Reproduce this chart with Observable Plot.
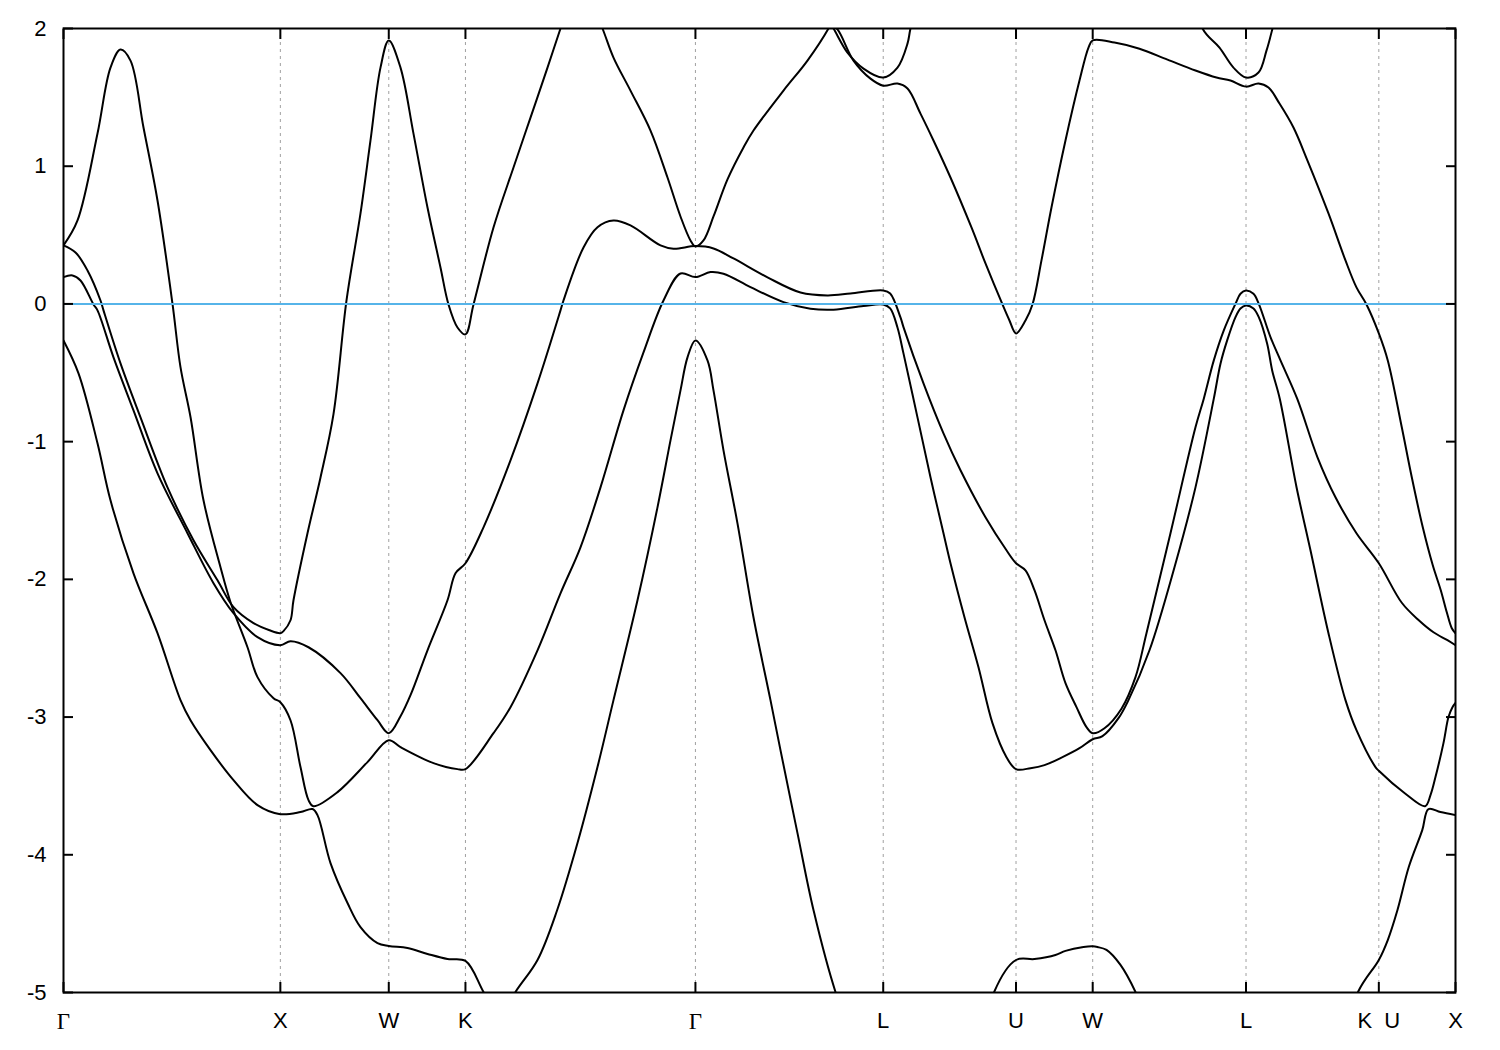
<!DOCTYPE html>
<html>
<head>
<meta charset="utf-8">
<script src="https://cdn.jsdelivr.net/npm/d3@7"></script>
<script src="https://cdn.jsdelivr.net/npm/@observablehq/plot@0.6"></script>
<style>
  html, body { margin: 0; padding: 0; background: #fff; }
</style>
</head>
<body>
<div id="chart"></div>
<script>
// High-symmetry points along the path (cumulative k distance) and their labels
const nodeK = [0, 1, 1.5, 1.8536, 2.9142, 3.7802, 4.3926, 4.7462, 5.4533, 6.0657, 6.4193];
const nodeLabels = ["Γ", "X", "W", "K", "Γ", "L", "U", "W", "L", "K\u00a0\u00a0U", "X"];
const yTicks = [2, 1, 0, -1, -2, -3, -4, -5];
const fermiLevel = [0];

// Bands: [k, E] pairs
const band1 = [
  [0, 0.425], [0.0646, 0.606], [0.1568, 1.237], [0.2167, 1.716], [0.2629, 1.847], [0.3090, 1.767],
  [0.3689, 1.281], [0.4335, 0.751], [0.5027, 0.0], [0.5395, -0.459], [0.5857, -0.821], [0.6456, -1.426],
  [0.7240, -1.912], [0.7702, -2.166], [0.8485, -2.493], [0.8946, -2.710], [0.9685, -2.863], [1.0, -2.892],
  [1.0468, -3.023], [1.0929, -3.363], [1.1298, -3.603], [1.1529, -3.647], [1.2636, -3.545], [1.4019, -3.327],
  [1.5, -3.168], [1.5541, -3.218], [1.7062, -3.334], [1.8169, -3.378], [1.8536, -3.378], [1.9829, -3.117],
  [2.0613, -2.928], [2.1859, -2.515], [2.2919, -2.101], [2.3841, -1.767], [2.4764, -1.332], [2.5824, -0.773],
  [2.6747, -0.352], [2.7669, 0.025], [2.8453, 0.221], [2.9142, 0.195], [2.9836, 0.231], [3.0436, 0.219],
  [3.1681, 0.122], [3.3203, 0.013], [3.4448, -0.035], [3.5508, -0.042], [3.6892, -0.015], [3.7802, -0.004],
  [3.8123, -0.033], [3.8459, -0.171], [3.8736, -0.359], [3.9382, -0.824], [3.9982, -1.259], [4.0581, -1.665],
  [4.0904, -1.883], [4.1549, -2.275], [4.2195, -2.638], [4.2840, -3.044], [4.3486, -3.291], [4.3926, -3.378],
  [4.4593, -3.371], [4.5239, -3.349], [4.6069, -3.291], [4.6853, -3.226], [4.7462, -3.161], [4.7913, -3.139],
  [4.8651, -3.008], [4.9112, -2.877], [5.0081, -2.515], [5.1234, -1.912], [5.2202, -1.332], [5.3047, -0.688],
  [5.3355, -0.434], [5.3663, -0.265], [5.4047, -0.096], [5.4277, -0.033], [5.4533, -0.011], [5.4877, -0.033],
  [5.5121, -0.096], [5.5508, -0.289], [5.5739, -0.483], [5.6089, -0.688], [5.6860, -1.329], [5.7505, -1.789],
  [5.8335, -2.391], [5.9119, -2.877], [5.9626, -3.095], [6.0503, -3.363], [6.0657, -3.39], [6.1854, -3.553],
  [6.2790, -3.647], [6.3039, -3.567], [6.3269, -3.436], [6.3638, -3.189], [6.3869, -3.000], [6.4053, -2.928],
  [6.4193, -2.897]
];

const band2 = [
  [0, 0.425], [0.0553, 0.374], [0.1107, 0.243], [0.1706, 0.025], [0.1845, -0.047], [0.2629, -0.432],
  [0.3551, -0.824], [0.4796, -1.332], [0.5995, -1.716], [0.7102, -2.007], [0.7840, -2.202], [0.8762, -2.318],
  [0.95, -2.37], [1.0, -2.391], [1.0145, -2.376], [1.0468, -2.297], [1.0606, -2.152], [1.1252, -1.665],
  [1.1852, -1.260], [1.2451, -0.800], [1.3051, 0.025], [1.3696, 0.657], [1.4157, 1.187], [1.4618, 1.716], [1.5, 1.913],
  [1.5541, 1.716], [1.6140, 1.237], [1.6786, 0.700], [1.7385, 0.265], [1.7754, -0.004], [1.8169, -0.171],
  [1.8536, -0.221], [1.8908, -0.004], [1.9829, 0.555], [2.0752, 0.991], [2.1536, 1.353], [2.2320, 1.716],
  [2.2919, 2.0], [2.38, 2.4], [2.4856, 2.0], [2.5363, 1.789], [2.6147, 1.549], [2.7070, 1.259],
  [2.7854, 0.918], [2.8453, 0.635], [2.8914, 0.461], [2.9142, 0.417], [2.9513, 0.461], [2.9975, 0.635],
  [3.0620, 0.904], [3.1358, 1.136], [3.1819, 1.259], [3.3203, 1.549], [3.4309, 1.767], [3.5278, 2.0],
  [3.5370, 2.03], [3.5508, 2.0], [3.6154, 1.825], [3.6892, 1.709], [3.7802, 1.644], [3.8459, 1.716],
  [3.8921, 1.890], [3.9059, 2.0], [4.0, 2.6], [5.15, 2.6], [5.2525, 2.0], [5.3309, 1.861],
  [5.3954, 1.716], [5.4533, 1.644], [5.5107, 1.680], [5.5476, 1.839], [5.5753, 2.0], [5.65, 2.5]
];

const band3 = [
  [0, 0.195], [0.0415, 0.207], [0.0784, 0.170], [0.1383, -0.004], [0.1568, -0.047], [0.2306, -0.388],
  [0.3228, -0.773], [0.4335, -1.230], [0.5718, -1.665], [0.6917, -2.028], [0.7840, -2.246], [0.8946, -2.420],
  [1.0, -2.478], [1.0468, -2.449], [1.1298, -2.493], [1.2774, -2.681], [1.3696, -2.863], [1.4480, -3.023],
  [1.5, -3.117], [1.5541, -2.994], [1.6002, -2.841], [1.6786, -2.515], [1.7708, -2.152], [1.8077, -1.956],
  [1.8536, -1.883], [1.9368, -1.622], [2.0613, -1.136], [2.1859, -0.577], [2.2919, -0.047], [2.3057, 0.025],
  [2.3980, 0.410], [2.4625, 0.557], [2.5363, 0.606], [2.6147, 0.570], [2.7531, 0.425], [2.8130, 0.401],
  [2.9142, 0.420], [2.9975, 0.403], [3.0897, 0.330], [3.2465, 0.193], [3.3987, 0.083], [3.5232, 0.062],
  [3.6292, 0.076], [3.7802, 0.098], [3.8123, 0.076], [3.8598, -0.098], [3.8736, -0.168], [3.9659, -0.577],
  [4.0581, -0.940], [4.1365, -1.208], [4.2518, -1.549], [4.3486, -1.789], [4.3926, -1.883],
  [4.4362, -1.934], [4.4777, -2.079], [4.5239, -2.297], [4.5746, -2.515], [4.6207, -2.754], [4.6715, -2.928],
  [4.7176, -3.073], [4.7462, -3.117], [4.8005, -3.081], [4.8789, -2.939], [4.9435, -2.710], [4.9942, -2.391],
  [5.1049, -1.665], [5.2202, -0.896], [5.2585, -0.688], [5.3047, -0.410], [5.3508, -0.192], [5.4047, 0.001],
  [5.4277, 0.074], [5.4533, 0.098], [5.4877, 0.074], [5.5121, 0.001], [5.5661, -0.241], [5.6122, -0.410],
  [5.6892, -0.688], [5.7828, -1.114], [5.8658, -1.404], [5.9626, -1.665], [6.0657, -1.883], [6.1716, -2.17],
  [6.2500, -2.297], [6.3177, -2.384], [6.3822, -2.442], [6.4193, -2.478]
];

const band4 = [
  [0, -0.265], [0.0692, -0.504], [0.1568, -1.012], [0.2167, -1.426], [0.3228, -1.956], [0.4335, -2.391],
  [0.5395, -2.877], [0.5857, -3.023], [0.6779, -3.240], [0.7840, -3.458], [0.8946, -3.639], [1.0, -3.705],
  [1.0929, -3.690], [1.1483, -3.668], [1.1713, -3.712], [1.2313, -4.060], [1.3097, -4.350], [1.3696, -4.525],
  [1.4480, -4.641], [1.5, -4.662], [1.5863, -4.677], [1.6786, -4.720], [1.7708, -4.757], [1.8536, -4.771],
  [1.9368, -4.996], [2.01, -5.2], [2.0844, -4.996], [2.1859, -4.764], [2.2767, -4.401], [2.3703, -3.915],
  [2.4625, -3.363], [2.5363, -2.877], [2.6470, -2.152], [2.7392, -1.477], [2.7992, -0.991], [2.8453, -0.628],
  [2.8776, -0.388], [2.9142, -0.265], [2.9698, -0.410], [2.9975, -0.628], [3.0436, -1.063], [3.1081, -1.593],
  [3.1819, -2.275], [3.2603, -2.877], [3.3064, -3.240], [3.3848, -3.843], [3.4586, -4.401], [3.5601, -4.996],
  [3.8, -6.0], [4.15, -6.0], [4.2919, -4.996], [4.3926, -4.764], [4.4777, -4.757], [4.5746, -4.728],
  [4.6207, -4.698], [4.7037, -4.670], [4.7462, -4.665], [4.7683, -4.670], [4.8098, -4.691], [4.8743, -4.800],
  [4.9435, -4.996], [5.2, -6.0], [5.75, -6.0], [5.9697, -4.996], [6.0657, -4.764], [6.1070, -4.619],
  [6.1517, -4.401], [6.2038, -4.089], [6.2660, -3.821], [6.2947, -3.668], [6.3500, -3.690], [6.4193, -3.712]
];

const band5 = [
  [3.5370, 2.03], [3.5693, 1.993], [3.6431, 1.767], [3.7215, 1.636], [3.7802, 1.585], [3.8459, 1.600],
  [3.8921, 1.564], [3.9520, 1.382], [4.0120, 1.187], [4.0904, 0.918], [4.1872, 0.555], [4.2518, 0.294],
  [4.3302, -0.004], [4.3624, -0.120], [4.3926, -0.214], [4.4362, -0.120], [4.4685, -0.004], [4.5100, 0.316],
  [4.5561, 0.700], [4.6207, 1.187], [4.6853, 1.622], [4.7268, 1.861], [4.7462, 1.913], [4.8467, 1.898],
  [4.9620, 1.853], [5.0911, 1.774], [5.2202, 1.695], [5.3170, 1.644], [5.3816, 1.622], [5.4533, 1.578],
  [5.5107, 1.600], [5.5568, 1.571], [5.6076, 1.455], [5.6721, 1.281], [5.7367, 1.041], [5.8335, 0.657],
  [5.9119, 0.316], [5.9626, 0.120], [6.0088, -0.004], [6.0657, -0.214], [6.1070, -0.410], [6.1716, -0.896],
  [6.2177, -1.259], [6.2684, -1.622], [6.3145, -1.898], [6.3514, -2.079], [6.3791, -2.239], [6.4022, -2.355],
  [6.4193, -2.391]
];

const bands = [band1, band2, band3, band4, band5];
const data = bands.flatMap((b, i) => b.map(([k, E]) => ({band: i + 1, k, E})));

const labelOf = new Map(nodeK.map((k, i) => [k, nodeLabels[i]]));
const gammaK = nodeK.filter((k, i) => nodeLabels[i] === "Γ");
const otherK = nodeK.filter((k, i) => nodeLabels[i] !== "Γ");
const innerK = nodeK.slice(1, -1);

const chart = Plot.plot({
  width: 1500,
  height: 1050,
  marginLeft: 63,
  marginRight: 45,
  marginTop: 28,
  marginBottom: 58,
  x: {domain: [nodeK[0], nodeK[nodeK.length - 1]], axis: null},
  y: {domain: [-5, 2], axis: null},
  style: {fontFamily: "'Liberation Sans', Arial, sans-serif", fontSize: "22px", background: "#fff", color: "#000"},
  marks: [
    Plot.ruleX(innerK, {stroke: "#a0a0a0", strokeWidth: 1, strokeDasharray: "3,4"}),
    Plot.line(data, {x: "k", y: "E", z: "band", stroke: "#000", strokeWidth: 2, curve: "catmull-rom", clip: true}),
    Plot.ruleY(fermiLevel, {stroke: "#56b4e9", strokeWidth: 2}),
    // inward ticks on all four sides
    Plot.axisY({ticks: yTicks, anchor: "left", tickSize: -10, text: null, strokeWidth: 2, label: null}),
    Plot.axisY({ticks: yTicks, anchor: "right", tickSize: -10, text: null, strokeWidth: 2, label: null}),
    Plot.axisX({ticks: nodeK, anchor: "bottom", tickSize: -10, text: null, strokeWidth: 2, label: null}),
    Plot.axisX({ticks: nodeK, anchor: "top", tickSize: -10, text: null, strokeWidth: 2, label: null}),
    // labels
    Plot.axisY({ticks: yTicks, anchor: "left", tickSize: 0, tickPadding: 17, tickFormat: (d) => `${d}`, fontSize: 22, label: null}),
    Plot.axisX({ticks: otherK, anchor: "bottom", tickSize: 0, tickPadding: 20, tickFormat: (d) => labelOf.get(d), fontSize: 22, label: null}),
    Plot.axisX({ticks: gammaK, anchor: "bottom", tickSize: 0, tickPadding: 20, tickFormat: (d) => labelOf.get(d), fontSize: 23, fontFamily: "'Liberation Serif', 'DejaVu Serif', serif", label: null}),
    Plot.frame({stroke: "#000", strokeWidth: 2})
  ]
});
document.getElementById("chart").appendChild(chart);
</script>
</body>
</html>
